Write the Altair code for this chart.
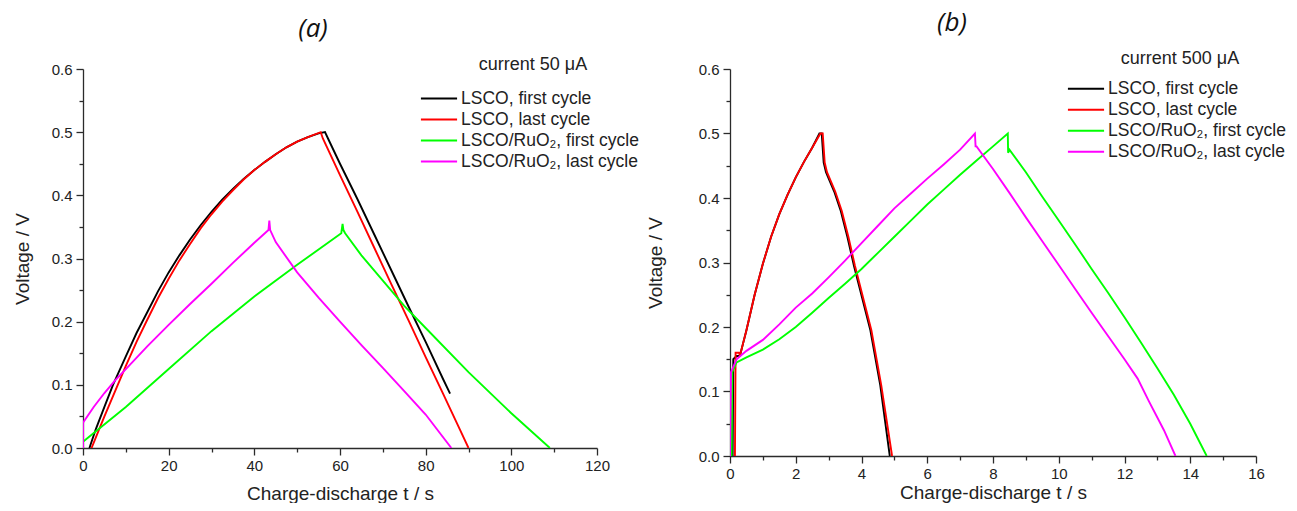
import altair as alt
import pandas as pd

SERIES = ["LSCO, first cycle", "LSCO, last cycle",
          "LSCO/RuO₂, first cycle", "LSCO/RuO₂, last cycle"]
COLORS = ["#000000", "#ff0000", "#00ff00", "#ff00ff"]

# ---------------- panel (a): current 50 uA ----------------
a_lsco_first_t = [1.5, 3, 5, 7, 10, 12.5, 15, 17.5, 20, 22.5, 25, 27.5, 30, 32.5,
                  35, 37.5, 40, 42.5, 45, 47.5, 50, 52.5, 55, 56.5,
                  57.2, 60, 64, 68, 72, 76, 80, 84, 85.7]
a_lsco_first_v = [0, 0.03, 0.065, 0.1, 0.145, 0.182, 0.215, 0.248, 0.278, 0.305,
                  0.33, 0.353, 0.374, 0.393, 0.41, 0.426, 0.44, 0.453, 0.465,
                  0.476, 0.485, 0.492, 0.498, 0.5,
                  0.49, 0.45, 0.395, 0.338, 0.281, 0.224, 0.168, 0.11, 0.086]
a_lsco_last_t = [2, 3.5, 5, 7.5, 10, 12.5, 15, 17.5, 20, 22.5, 25, 27.5, 30, 32.5,
                 35, 37.5, 40, 42.5, 45, 47.5, 50, 52.5, 55.5,
                 56, 60, 64, 68, 72, 76, 80, 84, 88, 90]
a_lsco_last_v = [0, 0.025, 0.05, 0.09, 0.13, 0.168, 0.203, 0.237, 0.268, 0.297,
                 0.323, 0.348, 0.37, 0.39, 0.408, 0.425, 0.44, 0.453, 0.465,
                 0.476, 0.485, 0.492, 0.5,
                 0.49, 0.432, 0.375, 0.317, 0.259, 0.202, 0.144, 0.087, 0.029, 0]
a_ruo_first_t = [0, 10, 20, 30, 40, 50, 60.3, 60.6, 60.8, 61.2, 65, 70, 75,
                 80, 90, 100, 109]
a_ruo_first_v = [0.01, 0.065, 0.125, 0.185, 0.24, 0.29, 0.34, 0.355, 0.345,
                 0.34, 0.305, 0.265, 0.225, 0.19, 0.12, 0.055, 0]
a_ruo_last_t = [0, 0, 2.5, 5, 7.5, 10, 15, 20, 25, 30, 35, 40, 43.3, 43.5, 43.7,
                45, 50, 55, 60, 65, 70, 75, 80, 86]
a_ruo_last_v = [0, 0.04, 0.065, 0.087, 0.107, 0.125, 0.161, 0.195, 0.228, 0.26,
                0.293, 0.325, 0.345, 0.36, 0.345, 0.326, 0.278, 0.238, 0.2,
                0.163, 0.127, 0.09, 0.053, 0]

# ---------------- panel (b): current 500 uA ----------------
b_lsco_first_t = [0.08, 0.1, 0.2, 0.3, 0.4, 0.5, 0.75, 1, 1.25, 1.5, 1.75, 2,
                  2.25, 2.5, 2.72, 2.79, 2.85, 2.92, 3.17, 3.37, 3.57, 3.77,
                  3.97, 4.27, 4.57, 4.86]
b_lsco_first_v = [0, 0.15, 0.155, 0.155, 0.175, 0.195, 0.25, 0.298, 0.34, 0.375,
                  0.405, 0.432, 0.456, 0.478, 0.5, 0.5, 0.455, 0.44, 0.41, 0.38,
                  0.34, 0.295, 0.255, 0.195, 0.11, 0]
b_lsco_last_t = [0.15, 0.17, 0.28, 0.3, 0.4, 0.5, 0.75, 1, 1.25, 1.5, 1.75, 2,
                 2.25, 2.5, 2.75, 2.82, 2.88, 2.95, 3.2, 3.4, 3.6, 3.8, 4.0,
                 4.3, 4.6, 4.93]
b_lsco_last_v = [0, 0.16, 0.16, 0.155, 0.175, 0.195, 0.25, 0.298, 0.34, 0.375,
                 0.405, 0.432, 0.456, 0.478, 0.5, 0.5, 0.455, 0.44, 0.41, 0.38,
                 0.34, 0.295, 0.255, 0.195, 0.11, 0]
b_ruo_first_t = [0.05, 0.07, 0.2, 0.5, 1, 1.5, 2, 2.5, 3, 3.5, 4, 4.5, 5, 5.5, 6,
                 6.5, 7, 7.5, 8, 8.45, 8.46, 8.5, 9, 9.5, 10, 10.5, 11, 11.5, 12,
                 12.5, 13, 13.5, 14, 14.5]
b_ruo_first_v = [0, 0.13, 0.145, 0.153, 0.165, 0.181, 0.2, 0.222, 0.245, 0.267,
                 0.29, 0.315, 0.34, 0.365, 0.39, 0.413, 0.436, 0.458, 0.48, 0.5,
                 0.47, 0.475, 0.44, 0.402, 0.365, 0.328, 0.29, 0.253, 0.215,
                 0.176, 0.136, 0.095, 0.05, 0]
b_ruo_last_t = [0, 0.03, 0.2, 0.5, 1, 1.5, 2, 2.5, 3, 3.5, 4, 4.5, 5, 5.5, 6,
                6.5, 7, 7.45, 7.47, 7.5, 8, 8.5, 9, 9.5, 10, 10.5, 11, 11.5, 12,
                12.4, 12.74, 13.2, 13.55]
b_ruo_last_v = [0, 0.13, 0.15, 0.163, 0.18, 0.204, 0.23, 0.252, 0.277, 0.303,
                0.33, 0.357, 0.384, 0.407, 0.43, 0.452, 0.475, 0.5, 0.48, 0.48,
                0.445, 0.408, 0.37, 0.333, 0.296, 0.259, 0.222, 0.186, 0.15,
                0.12, 0.085, 0.04, 0]


def build(series_lists):
    rows = []
    for name, (ts, vs) in zip(SERIES, series_lists):
        for i, (t, v) in enumerate(zip(ts, vs)):
            rows.append({"series": name, "t": t, "v": v, "i": i})
    return pd.DataFrame(rows)


df_a = build([(a_lsco_first_t, a_lsco_first_v), (a_lsco_last_t, a_lsco_last_v),
              (a_ruo_first_t, a_ruo_first_v), (a_ruo_last_t, a_ruo_last_v)])
df_b = build([(b_lsco_first_t, b_lsco_first_v), (b_lsco_last_t, b_lsco_last_v),
              (b_ruo_first_t, b_ruo_first_v), (b_ruo_last_t, b_ruo_last_v)])

FONT = "Liberation Sans"
AX = "#2b2b2b"
TXT = "#222222"
LEGEND_LINE = "M-1.65,0L1.65,0"


def panel(df, xmax, xmajor, xminor, label, legend_title, w, h, title_dx,
          legend_x, legend_y, legend_tpad, ytitle_pad, xtitle_pad):
    xvals = [k * xminor for k in range(int(round(xmax / xminor)) + 1)]
    yvals = [round(k * 0.05, 2) for k in range(13)]
    xminor_test = f"abs(datum.value/{xmajor} - round(datum.value/{xmajor})) > 0.001"
    yminor_test = "abs(datum.value*10 - round(datum.value*10)) > 0.001"
    x_axis = alt.Axis(
        values=xvals, title="Charge-discharge t / s", grid=False,
        labelExpr=f"{xminor_test} ? '' : format(datum.value, 'd')",
        tickSize={"condition": {"test": xminor_test, "value": 4}, "value": 7},
        labelFont=FONT, labelFontSize=15, labelColor=TXT, labelPadding=3,
        labelFlush=False,
        titleFont=FONT, titleFontSize=19, titleFontWeight="normal",
        titleColor=TXT, titlePadding=xtitle_pad, domainColor=AX, tickColor=AX,
        domainWidth=1.3, tickWidth=1.3, labelOverlap=False)
    y_axis = alt.Axis(
        values=yvals, title="Voltage / V", grid=False,
        labelExpr=f"{yminor_test} ? '' : format(datum.value, '.1f')",
        tickSize={"condition": {"test": yminor_test, "value": 4}, "value": 7},
        labelFont=FONT, labelFontSize=15, labelColor=TXT, labelPadding=4,
        labelFlush=False,
        titleFont=FONT, titleFontSize=19, titleFontWeight="normal",
        titleColor=TXT, titlePadding=ytitle_pad, domainColor=AX,
        tickColor=AX, domainWidth=1.3, tickWidth=1.3, labelOverlap=False)
    legend = alt.Legend(
        title=legend_title, orient="none", legendX=legend_x, legendY=legend_y,
        symbolType=LEGEND_LINE, symbolSize=480, symbolStrokeWidth=2,
        labelFont=FONT, labelFontSize=17.5, labelColor=TXT, labelLimit=400,
        labelOffset=10, titleFont=FONT, titleFontSize=18,
        titleFontWeight="normal", titleColor=TXT, titleAnchor="middle",
        titlePadding=legend_tpad, rowPadding=0)
    return alt.Chart(df).mark_line(strokeWidth=1.9, clip=True).encode(
        x=alt.X("t:Q", scale=alt.Scale(domain=[0, xmax], nice=False), axis=x_axis),
        y=alt.Y("v:Q", scale=alt.Scale(domain=[0, 0.6], nice=False), axis=y_axis),
        color=alt.Color("series:N", scale=alt.Scale(domain=SERIES, range=COLORS),
                        sort=SERIES, legend=legend),
        detail="series:N",
        order="i:Q",
    ).properties(
        width=w, height=h,
        title=alt.TitleParams(label, font="Open Sans", fontSize=26,
                              fontStyle="italic", fontWeight="normal",
                              color="#111", dx=title_dx, offset=13.5,
                              anchor="middle"),
    )


pa = panel(df_a, 120, 20, 10, "(a)", "current 50 μA", 514, 379, -27, 344,
           -13.5, 13, 19, 11)
pb = panel(df_b, 16, 2, 1, "(b)", "current 500 μA", 526, 387, -41, 344,
           -19.3, 9, 33, 2)

chart = alt.hconcat(pa, pb, spacing=7).resolve_scale(
    x="independent", y="independent", color="independent"
).resolve_legend(color="independent").configure_view(stroke=None).properties(
    padding={"left": 5, "top": 2, "right": 0, "bottom": 0}, background="white")

chart.save("out.html", embed_options={"renderer": "svg", "actions": False})
